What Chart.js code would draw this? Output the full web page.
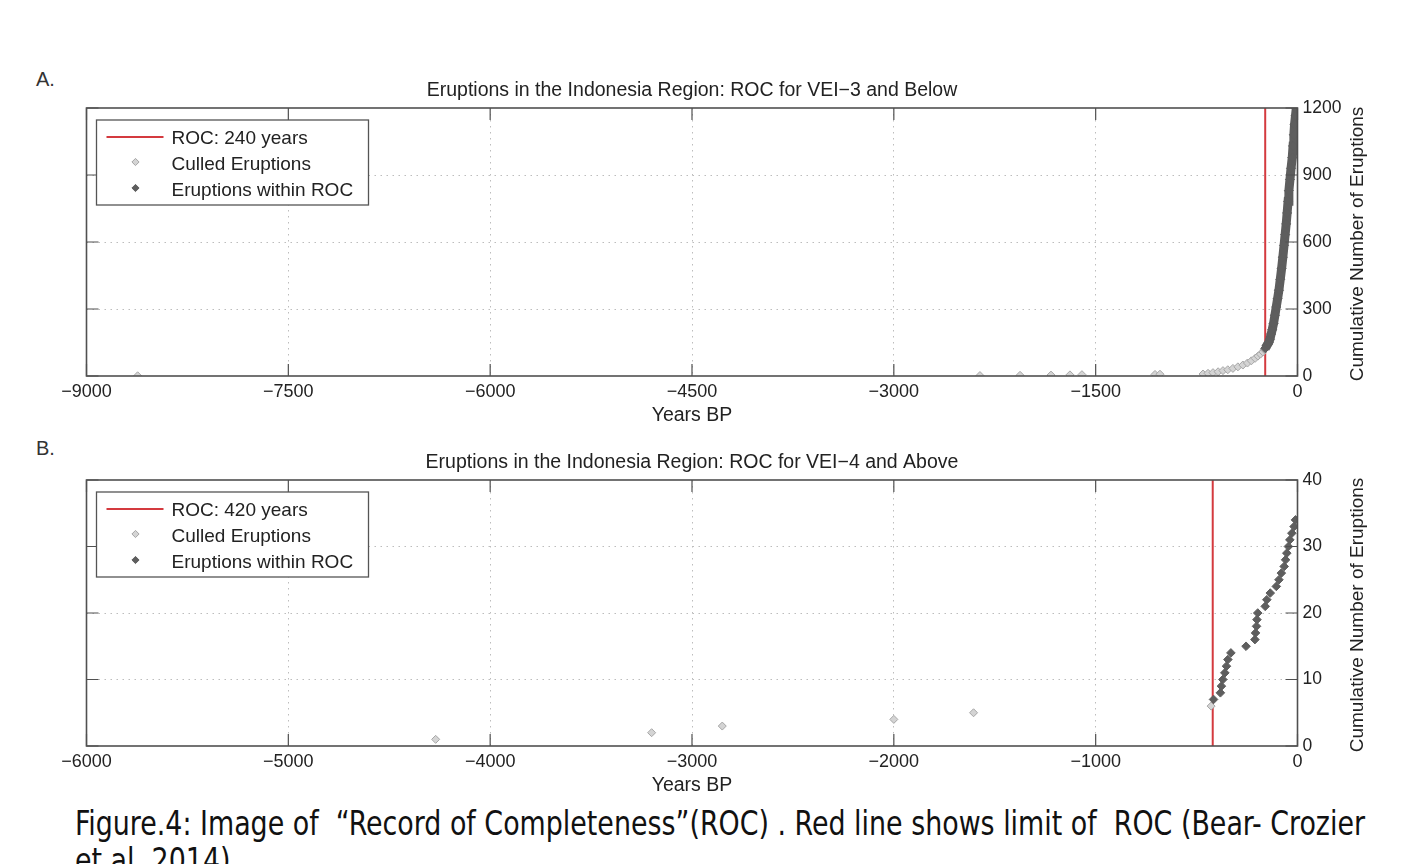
<!DOCTYPE html>
<html><head><meta charset="utf-8">
<script src="https://cdn.jsdelivr.net/npm/chart.js@4.4.1/dist/chart.umd.min.js"></script>
<style>
html,body{margin:0;padding:0;background:#fff;width:1401px;height:864px;overflow:hidden;position:relative;}
.wrap{position:absolute;left:0;width:1401px;}
.plabel{position:absolute;left:36px;font-family:"Liberation Sans",Arial,sans-serif;font-size:20px;line-height:20px;color:#333;}
.cap{position:absolute;left:75px;font-family:"Liberation Sans Narrow","DejaVu Sans Condensed","Liberation Sans",sans-serif;font-size:33px;line-height:37px;color:#111;white-space:pre;transform-origin:0 0;}
</style></head><body>
<div class="plabel" style="top:69px">A.</div>
<div class="plabel" style="top:438px">B.</div>
<div class="wrap" style="top:60px;height:372px"><canvas id="cA" width="1401" height="372"></canvas></div>
<div class="wrap" style="top:432px;height:372px"><canvas id="cB" width="1401" height="372"></canvas></div>
<div class="cap" id="cap1" style="top:805px">Figure.4: Image of  “Record of Completeness”(ROC) . Red line shows limit of  ROC (Bear- Crozier</div>
<div class="cap" id="cap2" style="top:842px">et al. 2014)</div>
<script>
// ---------- Data ----------
const xTicksA = [-9000, -7500, -6000, -4500, -3000, -1500, 0];
const yTicksA = [0, 300, 600, 900, 1200];
const rocYearsA = [-240, -240];
const culledYearsA = [-8620, -2360, -2062, -1832, -1691, -1602, -1059, -1022, -702, -665, -628, -590, -554, -518, -480, -443, -406, -372, -343, -315, -294, -275, -257, -246];
const culledCountsA = [1, 2, 3, 4, 5, 6, 7, 8, 9, 12, 15, 19, 24, 28, 34, 41, 49, 58, 68, 79, 89, 98, 108, 118];
const withinYearsA = [-240, -230, -222, -214, -205, -196, -188, -178, -168, -158, -148, -138, -128, -118, -109, -100, -92, -84, -77, -70, -64, -56, -48, -39, -33, -27, -22, -15, -9];
const withinCountsA = [124, 134, 142, 150, 165, 188, 207, 235, 272, 309, 346, 384, 433, 482, 532, 585, 633, 681, 730, 782, 830, 880, 930, 978, 1030, 1080, 1127, 1165, 1199];

const xTicksB = [-6000, -5000, -4000, -3000, -2000, -1000, 0];
const yTicksB = [0, 10, 20, 30, 40];
const rocYearsB = [-420, -420];
const culledYearsB = [-4270, -3200, -2850, -2000, -1605, -428];
const culledCountsB = [1, 2, 3, 4, 5, 6];
const withinYearsB = [-416, -382, -377, -370, -360, -352, -345, -330, -255, -211, -208, -203, -201, -197, -160, -152, -135, -105, -92, -80, -66, -59, -53, -45, -38, -28, -17, -10];
const withinCountsB = [7, 8, 9, 10, 11, 12, 13, 14, 15, 16, 17, 18, 19, 20, 21, 22, 23, 24, 25, 26, 27, 28, 29, 30, 31, 32, 33, 34];

const titleA = 'Eruptions in the Indonesia Region: ROC for VEI\u22123 and Below';
const titleB = 'Eruptions in the Indonesia Region: ROC for VEI\u22124 and Above';
const legendA = ['ROC: 240 years', 'Culled Eruptions', 'Eruptions within ROC'];
const legendB = ['ROC: 420 years', 'Culled Eruptions', 'Eruptions within ROC'];
const xTitle = 'Years BP';
const yTitle = 'Cumulative Number of Eruptions';

// ---------- Styles ----------
const FONT = '"Liberation Sans", Arial, sans-serif';
const RED = '#d43a3f';
const LIGHT = '#d4d4d4', LIGHT_B = '#a6a6a6';
const DARK = '#5e5e5e';
const AXIS = '#505050';
const TEXT = '#222';

const frame = {
  id: 'frame',
  afterDraw(chart, args, o) {
    const {ctx, chartArea: a, scales: {x, y}} = chart;
    ctx.save();
    ctx.strokeStyle = AXIS; ctx.lineWidth = 1.2;
    ctx.beginPath();
    x.ticks.forEach(t => {
      const px = x.getPixelForValue(t.value);
      ctx.moveTo(px, a.bottom); ctx.lineTo(px, a.bottom - 12);
      ctx.moveTo(px, a.top); ctx.lineTo(px, a.top + 12);
    });
    y.ticks.forEach(t => {
      const py = y.getPixelForValue(t.value);
      ctx.moveTo(a.right, py); ctx.lineTo(a.right - 12, py);
      ctx.moveTo(a.left, py); ctx.lineTo(a.left + 12, py);
    });
    ctx.stroke();
    ctx.lineWidth = 1.6;
    ctx.strokeRect(a.left, a.top, a.right - a.left, a.bottom - a.top);
    ctx.fillStyle = TEXT;
    ctx.textAlign = 'center'; ctx.textBaseline = 'middle';
    ctx.font = '19.5px ' + FONT;
    ctx.fillText(o.title, (a.left + a.right) / 2, a.top - 17.5);
    ctx.fillText(o.xTitle, (a.left + a.right) / 2, a.bottom + 40);
    ctx.save();
    ctx.translate(a.right + 60, (a.top + a.bottom) / 2 + 2);
    ctx.rotate(-Math.PI / 2);
    ctx.font = '19px ' + FONT;
    ctx.fillText(o.yTitle, 0, 0);
    ctx.restore();
    // legend
    const lx = a.left + 10, ly = a.top + 12, lw = 272, lh = 85;
    ctx.fillStyle = '#fff';
    ctx.fillRect(lx, ly, lw, lh);
    ctx.strokeStyle = '#555'; ctx.lineWidth = 1.3;
    ctx.strokeRect(lx, ly, lw, lh);
    const ds = chart.data.datasets;
    const rows = [ly + 18, ly + 44, ly + 70];
    ctx.font = '19px ' + FONT; ctx.textAlign = 'left'; ctx.fillStyle = TEXT;
    ctx.strokeStyle = ds[0].borderColor; ctx.lineWidth = 2;
    ctx.beginPath(); ctx.moveTo(a.left + 20, rows[0] - 1); ctx.lineTo(a.left + 77, rows[0] - 1); ctx.stroke();
    [1, 2].forEach(i => {
      const cx = a.left + 49, cy = rows[i] - 2, r = 3.6;
      ctx.beginPath();
      ctx.moveTo(cx, cy - r); ctx.lineTo(cx + r, cy); ctx.lineTo(cx, cy + r); ctx.lineTo(cx - r, cy); ctx.closePath();
      ctx.fillStyle = ds[i].pointBackgroundColor; ctx.fill();
      ctx.strokeStyle = ds[i].pointBorderColor; ctx.lineWidth = 1; ctx.stroke();
    });
    ctx.fillStyle = TEXT;
    ds.forEach((d, i) => ctx.fillText(d.label, a.left + 85, rows[i] + 1));
    ctx.restore();
  }
};

const fmt = v => v < 0 ? '\u2212' + Math.abs(v) : String(v);

function makeChart(id, xt, yt, roc, cy, cc, wy, wc, labels, title, axisH, bandWidth, darkR) {
  const xmin = xt[0], xmax = xt[xt.length - 1], ymin = yt[0], ymax = yt[yt.length - 1];
  const gridColor = c => (c.tick && (c.tick.value === c.scale.min || c.tick.value === c.scale.max)) ? 'rgba(0,0,0,0)' : '#bdbdbd';
  return new Chart(document.getElementById(id), {
    type: 'scatter',
    data: {
      datasets: [
        { type: 'line', label: labels[0], data: roc.map((v, i) => ({x: v, y: i === 0 ? ymin : ymax})),
          borderColor: RED, backgroundColor: RED, borderWidth: 2, pointRadius: 0, order: 3 },
        { label: labels[1], data: cy.map((v, i) => ({x: v, y: cc[i]})),
          pointStyle: 'rectRot', pointRadius: 4,
          pointBackgroundColor: LIGHT, pointBorderColor: LIGHT_B, pointBorderWidth: 1,
          backgroundColor: LIGHT, borderColor: LIGHT_B, borderWidth: 1, order: 2 },
        { label: labels[2], data: wy.map((v, i) => ({x: v, y: wc[i]})),
          showLine: bandWidth > 0, borderWidth: bandWidth, borderColor: DARK, backgroundColor: DARK,
          pointStyle: 'rectRot', pointRadius: darkR,
          pointBackgroundColor: DARK, pointBorderColor: DARK, pointBorderWidth: 1, order: 1 }
      ]
    },
    options: {
      responsive: false, animation: false, devicePixelRatio: 1,
      layout: { padding: { left: 86.5, top: 48, right: 0, bottom: 0 } },
      plugins: { legend: { display: false }, tooltip: { enabled: false }, title: { display: false },
        frame: { title: title, xTitle: xTitle, yTitle: yTitle } },
      scales: {
        x: {
          type: 'linear', min: xmin, max: xmax,
          afterBuildTicks: s => { s.ticks = xt.map(v => ({value: v})); },
          afterFit: s => { s.height = axisH; },
          ticks: { callback: fmt, font: { family: FONT, size: 18 }, color: TEXT, padding: 5, maxRotation: 0, autoSkip: false },
          grid: { color: gridColor, lineWidth: 1, drawTicks: false },
          border: { display: false, dash: [1.5, 4.5] }
        },
        y: {
          type: 'linear', position: 'right', min: ymin, max: ymax,
          afterBuildTicks: s => { s.ticks = yt.map(v => ({value: v})); },
          afterFit: s => { s.width = 103.5; },
          ticks: { callback: v => String(v), font: { family: FONT, size: 17.5 }, color: TEXT, padding: 5, autoSkip: false },
          grid: { color: gridColor, lineWidth: 1, drawTicks: false },
          border: { display: false, dash: [1.5, 4.5] }
        }
      }
    },
    plugins: [frame]
  });
}

makeChart('cA', xTicksA, yTicksA, rocYearsA, culledYearsA, culledCountsA, withinYearsA, withinCountsA, legendA, titleA, 56, 9, 4.5);
makeChart('cB', xTicksB, yTicksB, rocYearsB, culledYearsB, culledCountsB, withinYearsB, withinCountsB, legendB, titleB, 58, 0, 4.3);

function fitCaption() {
  const c1 = document.getElementById('cap1'), c2 = document.getElementById('cap2');
  const w = c1.getBoundingClientRect().width;
  const s = 1290 / w;
  c1.style.transform = 'scaleX(' + s + ')';
  c2.style.transform = 'scaleX(' + s + ')';
}
fitCaption();
</script>
</body></html>
